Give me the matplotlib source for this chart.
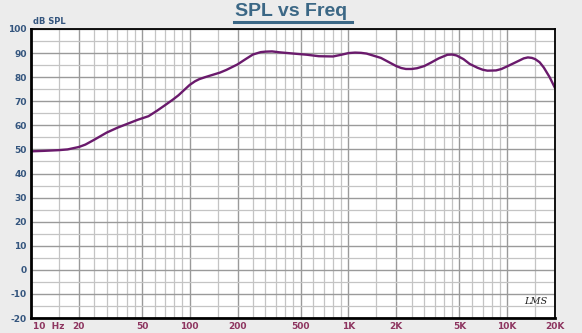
import numpy as np
import matplotlib
matplotlib.use("Agg")
import matplotlib.pyplot as plt
from matplotlib.ticker import FixedLocator, NullFormatter

plt.rcParams["axes.unicode_minus"] = False

freq = [10, 12, 15, 17, 20, 22, 25, 30, 35, 40, 47, 55, 62, 70, 78, 85, 92, 100,
        108, 115, 125, 140, 155, 170, 185, 200, 225, 250, 280, 300, 330, 370, 400,
        450, 550, 650, 800, 900, 1000, 1100, 1200, 1300, 1600, 2000, 2150, 2300,
        2500, 2700, 3000, 3300, 3700, 4200, 4500, 4800, 5300, 5800, 6500, 7000,
        7500, 8500, 9200, 10000, 11000, 12000, 12700, 13500, 14300, 15000, 16000,
        17000, 18500, 20000]
spl = [49.2, 49.4, 49.7, 50.0, 51.0, 52.0, 54.0, 57.0, 59.0, 60.5, 62.3, 63.8,
       66.0, 68.4, 70.6, 72.5, 74.6, 76.8, 78.3, 79.2, 80.0, 81.0, 81.9, 83.0,
       84.2, 85.3, 87.5, 89.4, 90.4, 90.6, 90.7, 90.3, 90.1, 89.8, 89.3, 88.7,
       88.6, 89.3, 90.0, 90.2, 90.1, 89.8, 88.0, 84.6, 83.8, 83.4, 83.4, 83.7,
       84.6, 86.0, 87.8, 89.3, 89.4, 89.0, 87.5, 85.5, 83.9, 83.1, 82.7, 82.8,
       83.4, 84.5, 85.8, 87.0, 87.8, 88.2, 88.0, 87.5, 86.2, 84.0, 80.0, 75.5]

x_ticks = [20, 50, 100, 200, 500, 1000, 2000, 5000, 10000, 20000]
x_labels = ["20", "50", "100", "200", "500", "1K", "2K", "5K", "10K", "20K"]
y_ticks = list(range(-20, 101, 10))

blue = "#34557e"
maroon = "#8e3560"
curve = "#6a1a6c"

fig = plt.figure(figsize=(5.82, 3.33), dpi=100)
fig.patch.set_facecolor("#ececec")
ax = fig.add_axes([31/582, 1 - 318/333, 524/582, 289/333])
ax.set_facecolor("white")

ax.set_xscale("log")
ax.set_xlim(10, 20000)
ax.set_ylim(-20, 100)

# grid: labelled lines darker, the rest lighter
minor_x = []
for dec in [10, 100, 1000, 10000]:
    for m in [1.5, 2, 2.5, 3, 3.5, 4, 4.5, 5, 6, 7, 8, 9, 10]:
        v = dec * m
        if v < 20000:
            minor_x.append(v)
ax.xaxis.set_major_locator(FixedLocator(x_ticks))
ax.xaxis.set_minor_locator(FixedLocator(minor_x))
ax.xaxis.set_minor_formatter(NullFormatter())
ax.set_xticklabels([])
ax.yaxis.set_major_locator(FixedLocator(y_ticks))
ax.yaxis.set_minor_locator(FixedLocator(list(range(-15, 100, 10))))
ax.grid(which="major", color="#9a9a9a", linewidth=1.0)
ax.grid(which="minor", color="#c4c4c4", linewidth=0.9)
ax.set_axisbelow(True)
ax.tick_params(which="both", length=0)
ax.tick_params(axis="y", labelsize=6.5, labelcolor=blue, pad=3)
for lab in ax.get_yticklabels():
    lab.set_fontweight("bold")

for s in ax.spines.values():
    s.set_color("black")
    s.set_linewidth(1.3)
ax.spines["left"].set_linewidth(2)
ax.spines["bottom"].set_linewidth(2)

ax.plot(freq, spl, color=curve, linewidth=1.7, solid_capstyle="round",
        solid_joinstyle="round")

# x labels drawn as text, below the frame
for f, t in zip(x_ticks, x_labels):
    ax.text(f, -21.5, t, ha="center", va="top", fontsize=6.5, color=maroon,
            fontweight="bold", clip_on=False)
ax.text(10.3, -21.5, "10  Hz", ha="left", va="top", fontsize=6.5, color=maroon,
        fontweight="bold", clip_on=False)

fig.text(33/582, 1 - 22/333, "dB SPL", fontsize=6, color=blue, fontweight="bold",
         ha="left", va="center")

fig.text(0.5, 1 - 12/333, "SPL vs Freq", fontsize=14, fontweight="bold",
         color="#3b6785", ha="center", va="center", family="Liberation Sans")
fig.add_artist(plt.Line2D([234/582, 352/582], [1 - 21.5/333, 1 - 21.5/333],
                          color="#3b6785", linewidth=2.2))

ax.text(0.985, 0.04, "LMS", transform=ax.transAxes, ha="right", va="bottom",
        fontsize=7, style="italic", color="#222222", family="DejaVu Serif")

fig.savefig("out.png", dpi=100, facecolor=fig.get_facecolor())
